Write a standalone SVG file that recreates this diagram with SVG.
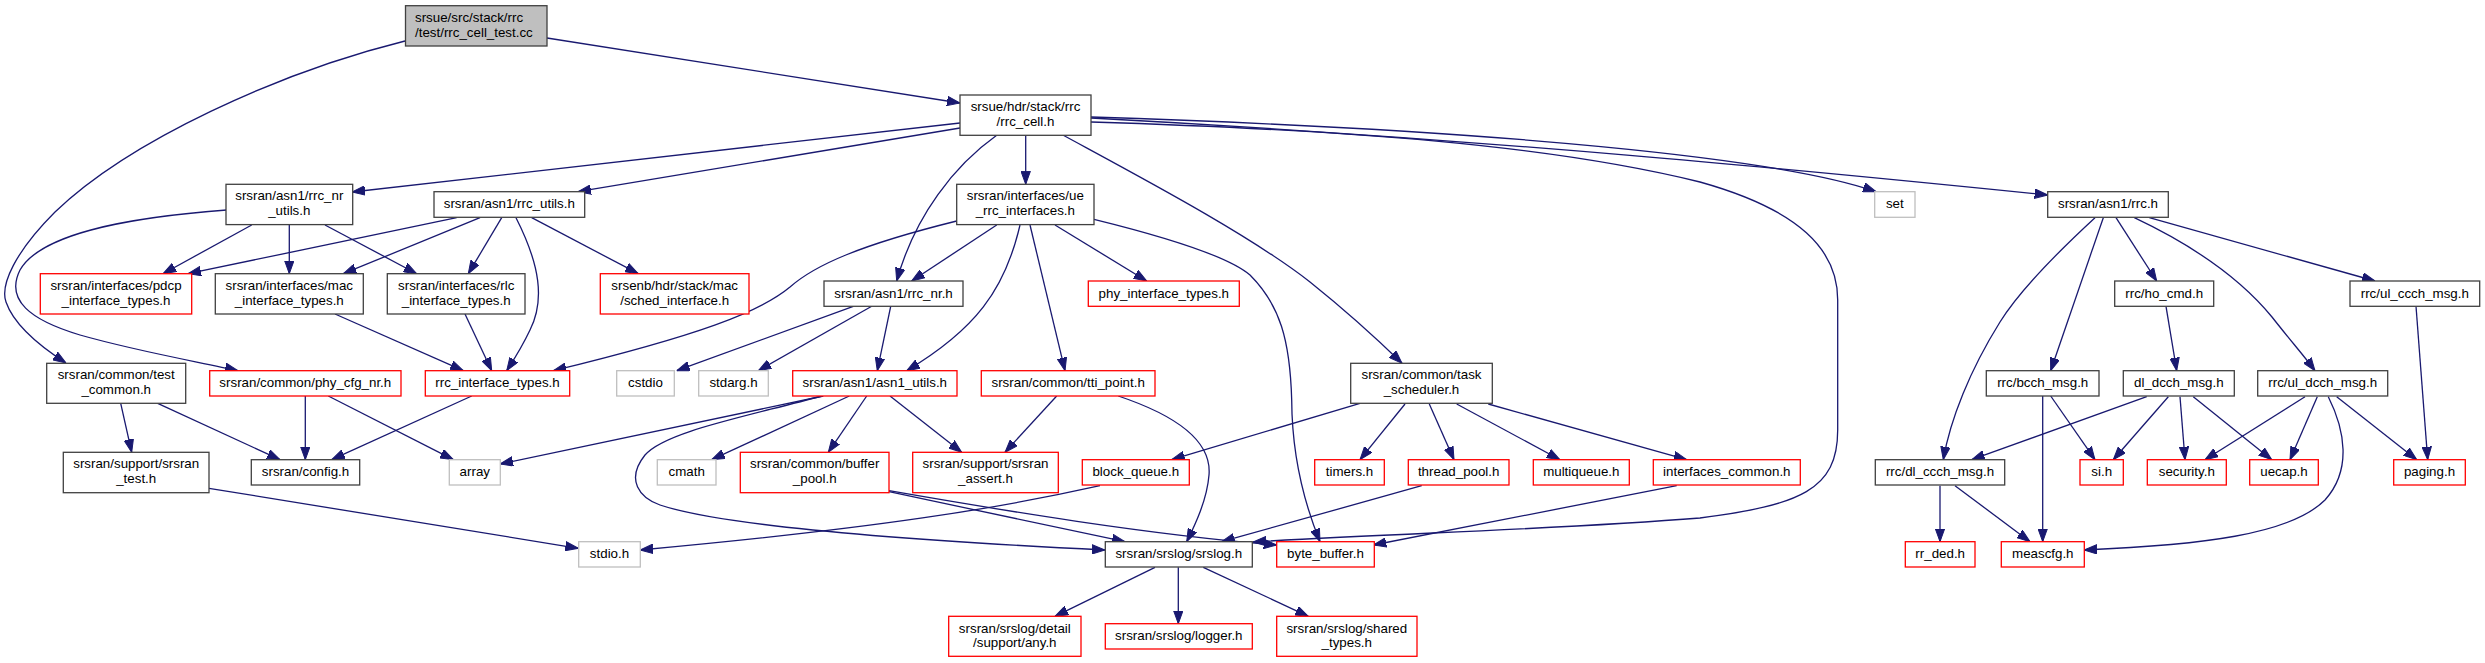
<svg xmlns="http://www.w3.org/2000/svg" width="2485" height="663" viewBox="0 0 2485 663">
<style>
text{font-family:"Liberation Sans",Arial,Helvetica,sans-serif;font-size:13.33px;fill:#000;text-anchor:middle}
.k rect{fill:#fff;stroke:#404040;stroke-width:1.3}
.r rect{fill:#fff;stroke:#ff0000;stroke-width:1.3}
.g rect{fill:#fff;stroke:#bfbfbf;stroke-width:1.3}
.root rect{fill:#bfbfbf;stroke:#404040;stroke-width:1.3}
.root text{text-anchor:start}
#edges path{fill:none;stroke:#191970;stroke-width:1.3;marker-end:url(#ah)}
</style>
<defs>
<marker id="ah" viewBox="0 0 13 10" refX="13" refY="5" markerWidth="13" markerHeight="10" markerUnits="userSpaceOnUse" orient="auto">
<path d="M0,0.3 L13,5 L0,9.7 Z" fill="#191970" stroke="#191970" stroke-width="1"/>
</marker>
</defs>
<rect width="2485" height="663" fill="#fff"/>
<g id="edges">
<path d="M547,38 L960,103"/>
<path d="M405,41 C280,72 130,140 55,212 C15,252 0,285 6,302 C14,325 38,345 66,363"/>
<path d="M960,123 L352,192"/>
<path d="M960,128 L578,191.7"/>
<path d="M996.7,135.3 C955,165 915,215 896.7,281"/>
<path d="M1025.7,135.3 L1025.7,184.3"/>
<path d="M1063.3,135.3 C1140,177 1250,235 1310,282 C1345,310 1375,337 1402,363.3"/>
<path d="M1091,117 C1500,130 1780,158 1876,191.7"/>
<path d="M1091,118 C1500,140 1800,170 2047.7,195"/>
<path d="M1091,122 C1350,130 1550,145 1700,182 C1800,210 1837.7,250 1837.7,300 L1837.7,430 C1837.7,490 1800,505 1700,518 C1550,530 1400,533 1253,542"/>
<path d="M956.7,221 C860,245 815,265 790,287 C760,312 700,335 553.3,370.7"/>
<path d="M996.7,225 L911.7,281"/>
<path d="M1020,225 C1005,290 975,330 906.7,370.7"/>
<path d="M1030,225 L1065,370.7"/>
<path d="M1055,225 L1146.7,281"/>
<path d="M1094,219.3 C1170,238 1230,258 1250,275 C1280,305 1290,340 1291.7,400 C1292,460 1305,505 1320,541.7"/>
<path d="M853.3,306.3 L676.7,370.7"/>
<path d="M871.7,306.3 L758.3,370.7"/>
<path d="M890.7,306.3 L877.3,370.7"/>
<path d="M823.3,396 L500,464"/>
<path d="M822,396 C740,418 665,432 645,455 C625,480 640,498 660,505 C720,525 900,540 1105,550"/>
<path d="M849.3,396 L711.7,459.7"/>
<path d="M866.7,396 L828.3,452.3"/>
<path d="M890,396 L961.7,452.3"/>
<path d="M1056.7,396 L1005,452.3"/>
<path d="M1118.3,396 C1175,415 1212,440 1209,475 C1207,500 1195,525 1186.7,541.7"/>
<path d="M889,491.7 L1125,541.7"/>
<path d="M889,490.7 C1000,510 1150,535 1276.7,545"/>
<path d="M1100,485.7 C1000,508 880,528 640,550"/>
<path d="M209,488.3 L578.3,548.3"/>
<path d="M120.7,403.3 L131.7,452.3"/>
<path d="M157.7,403.3 L280,459.7"/>
<path d="M305.3,396 L305.3,459.7"/>
<path d="M328.3,396 L453.3,459.7"/>
<path d="M471.7,396 L331.7,459.7"/>
<path d="M226.7,210 C120,218 40,235 20,270 C5,300 30,320 80,335 C140,352 200,362 238,370.7"/>
<path d="M456.7,217.7 L188,273.7"/>
<path d="M480,217.7 L343.3,273.7"/>
<path d="M501.7,217.7 L468.3,273.7"/>
<path d="M516,217.7 C540,265 545,300 530,330 C522,347 515,358 506.7,370.7"/>
<path d="M531.7,217.7 L638.3,273.7"/>
<path d="M251.7,225 L163,273.7"/>
<path d="M289.3,225 L289.3,273.7"/>
<path d="M325,225 L416.7,273.7"/>
<path d="M465,314 L491.7,370.7"/>
<path d="M335,314 L463.3,370.7"/>
<path d="M1360,403.3 L1171.7,459.7"/>
<path d="M1405,404 L1360,459.7"/>
<path d="M1429.3,404 L1454,459.7"/>
<path d="M1456.7,404 L1560,459.7"/>
<path d="M1488.3,404 L1686.7,459.7"/>
<path d="M1421.7,485.7 L1221.7,541.7"/>
<path d="M1676.7,485.7 L1373.3,545"/>
<path d="M1155,567.3 L1055,616.3"/>
<path d="M1178.3,567.3 L1178.3,623.7"/>
<path d="M1203.3,567.3 L1308.3,616.3"/>
<path d="M2095,217.7 C2060,250 2020,290 2000,322 C1970,370 1950,420 1943.3,459.7"/>
<path d="M2103.3,217.7 L2050.7,370.7"/>
<path d="M2116,217.7 L2156.7,281"/>
<path d="M2134.3,217.7 C2190,244 2240,278 2272,317 C2290,340 2305,357 2315,370.7"/>
<path d="M2149.3,217.7 L2375,281"/>
<path d="M2166,306.3 L2176.7,370.7"/>
<path d="M2416,306.3 L2427.7,459.7"/>
<path d="M2050.7,396 L2095,459.7"/>
<path d="M2042.7,396 L2042.7,541.7"/>
<path d="M2146.7,396.7 L1971.7,459.7"/>
<path d="M2168.3,396.7 L2113.3,459.7"/>
<path d="M2180,396.7 L2185,459.7"/>
<path d="M2193.3,396.7 L2271.7,459.7"/>
<path d="M2305,396.7 L2205,459.7"/>
<path d="M2317.3,396.7 L2290,459.7"/>
<path d="M2328.3,396.7 C2345,430 2352,470 2325,500 C2290,535 2200,545 2084,550"/>
<path d="M2336.7,396.7 L2416.7,459.7"/>
<path d="M1940,485.7 L1940,541.7"/>
<path d="M1955,485.7 L2030,541.7"/>
</g>
<g id="n_root" class="root"><rect x="405.5" y="5.7" width="141.5" height="40.3"/><text x="415" y="21.7">srsue/src/stack/rrc</text><text x="415" y="36.7">/test/rrc_cell_test.cc</text></g>
<g id="n_rrc_cell" class="k"><rect x="960" y="95" width="131" height="40.3"/><text x="1025.5" y="111">srsue/hdr/stack/rrc</text><text x="1025.5" y="126">/rrc_cell.h</text></g>
<g id="n_rrc_nr_utils" class="k"><rect x="226" y="184.3" width="126.7" height="40.3"/><text x="289.3" y="200.3">srsran/asn1/rrc_nr</text><text x="289.3" y="215.3">_utils.h</text></g>
<g id="n_rrc_utils" class="k"><rect x="434" y="191.7" width="150.7" height="25.6"/><text x="509.3" y="208.4">srsran/asn1/rrc_utils.h</text></g>
<g id="n_ue_rrc_interfaces" class="k"><rect x="956.7" y="184.3" width="137.3" height="40.3"/><text x="1025.3" y="200.3">srsran/interfaces/ue</text><text x="1025.3" y="215.3">_rrc_interfaces.h</text></g>
<g id="n_set" class="g"><rect x="1874.7" y="191.7" width="40.3" height="25.6"/><text x="1894.8" y="208.4">set</text></g>
<g id="n_rrc_h" class="k"><rect x="2047.7" y="191.7" width="120.6" height="25.6"/><text x="2108" y="208.4">srsran/asn1/rrc.h</text></g>
<g id="n_pdcp" class="r"><rect x="40.3" y="273.7" width="151.4" height="40.3"/><text x="116" y="289.7">srsran/interfaces/pdcp</text><text x="116" y="304.7">_interface_types.h</text></g>
<g id="n_mac" class="k"><rect x="215.3" y="273.7" width="148" height="40.3"/><text x="289.3" y="289.7">srsran/interfaces/mac</text><text x="289.3" y="304.7">_interface_types.h</text></g>
<g id="n_rlc" class="k"><rect x="387.3" y="273.7" width="137.7" height="40.3"/><text x="456.2" y="289.7">srsran/interfaces/rlc</text><text x="456.2" y="304.7">_interface_types.h</text></g>
<g id="n_sched" class="r"><rect x="600.3" y="273.7" width="148.7" height="40.3"/><text x="674.7" y="289.7">srsenb/hdr/stack/mac</text><text x="674.7" y="304.7">/sched_interface.h</text></g>
<g id="n_rrc_nr" class="k"><rect x="824" y="281" width="139" height="25.3"/><text x="893.5" y="297.7">srsran/asn1/rrc_nr.h</text></g>
<g id="n_phy_if" class="r"><rect x="1088.3" y="281" width="151" height="25.3"/><text x="1163.8" y="297.7">phy_interface_types.h</text></g>
<g id="n_ho_cmd" class="k"><rect x="2114.7" y="281" width="99" height="25.3"/><text x="2164.2" y="297.7">rrc/ho_cmd.h</text></g>
<g id="n_ul_ccch" class="k"><rect x="2350" y="281" width="129.7" height="25.3"/><text x="2414.8" y="297.7">rrc/ul_ccch_msg.h</text></g>
<g id="n_test_common" class="k"><rect x="46.7" y="363.3" width="139" height="40"/><text x="116.2" y="379.3">srsran/common/test</text><text x="116.2" y="394.3">_common.h</text></g>
<g id="n_phy_cfg_nr" class="r"><rect x="209.7" y="370.7" width="191.3" height="25.3"/><text x="305.3" y="387.4">srsran/common/phy_cfg_nr.h</text></g>
<g id="n_rrc_if_types" class="r"><rect x="425.3" y="370.7" width="144.4" height="25.3"/><text x="497.5" y="387.4">rrc_interface_types.h</text></g>
<g id="n_cstdio" class="g"><rect x="616.7" y="370.7" width="57.6" height="25.3"/><text x="645.5" y="387.4">cstdio</text></g>
<g id="n_stdarg" class="g"><rect x="698.7" y="370.7" width="69.6" height="25.3"/><text x="733.5" y="387.4">stdarg.h</text></g>
<g id="n_asn1_utils" class="r"><rect x="792.7" y="370.7" width="164.3" height="25.3"/><text x="874.8" y="387.4">srsran/asn1/asn1_utils.h</text></g>
<g id="n_tti_point" class="r"><rect x="981.3" y="370.7" width="173.7" height="25.3"/><text x="1068.2" y="387.4">srsran/common/tti_point.h</text></g>
<g id="n_task_scheduler" class="k"><rect x="1350.7" y="363.3" width="141.6" height="40"/><text x="1421.5" y="379.3">srsran/common/task</text><text x="1421.5" y="394.3">_scheduler.h</text></g>
<g id="n_bcch" class="k"><rect x="1986.3" y="370.7" width="112.7" height="25.3"/><text x="2042.7" y="387.4">rrc/bcch_msg.h</text></g>
<g id="n_dl_dcch" class="k"><rect x="2123.3" y="370.7" width="111" height="25.3"/><text x="2178.8" y="387.4">dl_dcch_msg.h</text></g>
<g id="n_ul_dcch" class="k"><rect x="2257.7" y="370.7" width="130" height="25.3"/><text x="2322.7" y="387.4">rrc/ul_dcch_msg.h</text></g>
<g id="n_srsran_test" class="k"><rect x="63.3" y="452.3" width="145.7" height="40.4"/><text x="136.2" y="468.3">srsran/support/srsran</text><text x="136.2" y="483.3">_test.h</text></g>
<g id="n_config" class="k"><rect x="251.3" y="459.7" width="108.4" height="25.3"/><text x="305.5" y="476.4">srsran/config.h</text></g>
<g id="n_array" class="g"><rect x="449.3" y="459.7" width="51" height="25.3"/><text x="474.8" y="476.4">array</text></g>
<g id="n_cmath" class="g"><rect x="657.3" y="459.7" width="58.7" height="25.3"/><text x="686.7" y="476.4">cmath</text></g>
<g id="n_buffer_pool" class="r"><rect x="740.3" y="452.3" width="148.7" height="40.4"/><text x="814.7" y="468.3">srsran/common/buffer</text><text x="814.7" y="483.3">_pool.h</text></g>
<g id="n_srsran_assert" class="r"><rect x="912.7" y="452.3" width="145.6" height="40.4"/><text x="985.5" y="468.3">srsran/support/srsran</text><text x="985.5" y="483.3">_assert.h</text></g>
<g id="n_block_queue" class="r"><rect x="1082.3" y="459.7" width="107" height="25.3"/><text x="1135.8" y="476.4">block_queue.h</text></g>
<g id="n_timers" class="r"><rect x="1314.7" y="459.7" width="69.6" height="25.3"/><text x="1349.5" y="476.4">timers.h</text></g>
<g id="n_thread_pool" class="r"><rect x="1408.3" y="459.7" width="100.7" height="25.3"/><text x="1458.7" y="476.4">thread_pool.h</text></g>
<g id="n_multiqueue" class="r"><rect x="1533.3" y="459.7" width="96" height="25.3"/><text x="1581.3" y="476.4">multiqueue.h</text></g>
<g id="n_interfaces_common" class="r"><rect x="1653.3" y="459.7" width="147" height="25.3"/><text x="1726.8" y="476.4">interfaces_common.h</text></g>
<g id="n_dl_ccch" class="k"><rect x="1875.3" y="459.7" width="129.4" height="25.3"/><text x="1940" y="476.4">rrc/dl_ccch_msg.h</text></g>
<g id="n_si" class="r"><rect x="2080" y="459.7" width="43.3" height="25.3"/><text x="2101.7" y="476.4">si.h</text></g>
<g id="n_security" class="r"><rect x="2147.3" y="459.7" width="79" height="25.3"/><text x="2186.8" y="476.4">security.h</text></g>
<g id="n_uecap" class="r"><rect x="2249.7" y="459.7" width="68.6" height="25.3"/><text x="2284" y="476.4">uecap.h</text></g>
<g id="n_paging" class="r"><rect x="2393.7" y="459.7" width="71.6" height="25.3"/><text x="2429.5" y="476.4">paging.h</text></g>
<g id="n_stdio" class="g"><rect x="578.7" y="541.7" width="61.6" height="25.3"/><text x="609.5" y="558.4">stdio.h</text></g>
<g id="n_srslog" class="k"><rect x="1105.3" y="541.7" width="147" height="25.3"/><text x="1178.8" y="558.4">srsran/srslog/srslog.h</text></g>
<g id="n_byte_buffer" class="r"><rect x="1276.7" y="541.7" width="97.6" height="25.3"/><text x="1325.5" y="558.4">byte_buffer.h</text></g>
<g id="n_rr_ded" class="r"><rect x="1905.3" y="541.7" width="69.7" height="25.3"/><text x="1940.2" y="558.4">rr_ded.h</text></g>
<g id="n_meascfg" class="r"><rect x="2001.3" y="541.7" width="83" height="25.3"/><text x="2042.8" y="558.4">meascfg.h</text></g>
<g id="n_any" class="r"><rect x="948.7" y="616.3" width="132.3" height="40"/><text x="1014.8" y="632.8">srsran/srslog/detail</text><text x="1014.8" y="647.3">/support/any.h</text></g>
<g id="n_logger" class="r"><rect x="1105.3" y="623.7" width="147" height="25.3"/><text x="1178.8" y="640.4">srsran/srslog/logger.h</text></g>
<g id="n_shared_types" class="r"><rect x="1276.7" y="616.3" width="140.3" height="40"/><text x="1346.8" y="632.8">srsran/srslog/shared</text><text x="1346.8" y="647.3">_types.h</text></g>
</svg>
